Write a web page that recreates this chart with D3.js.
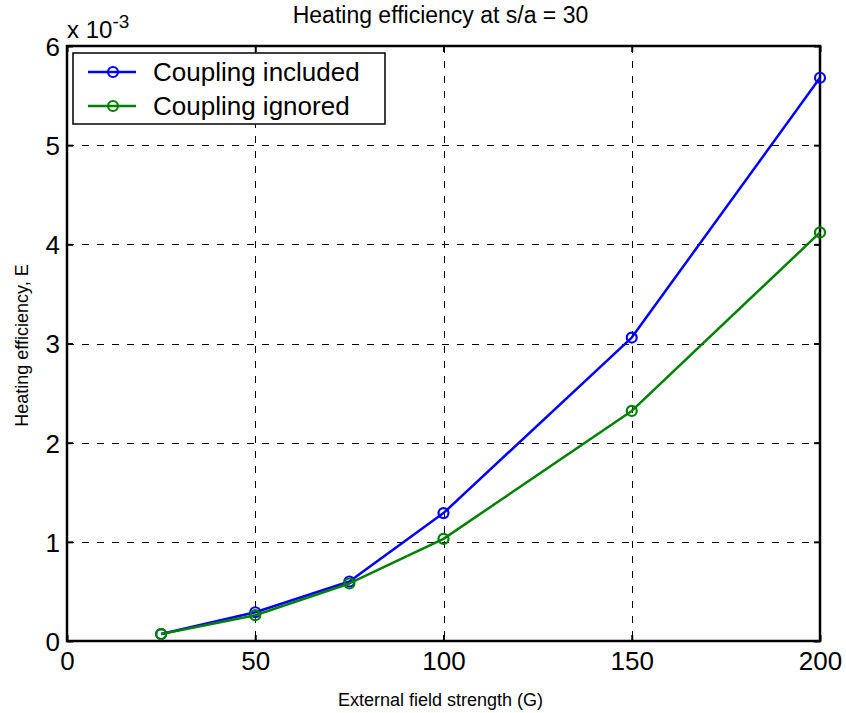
<!DOCTYPE html>
<html>
<head>
<meta charset="utf-8">
<script src="https://cdn.jsdelivr.net/npm/d3@7"></script>
<style>
  body { margin: 0; background: #fff; }
  svg { display: block; font-family: "Liberation Sans", Arial, sans-serif; }
</style>
</head>
<body>
<svg width="846" height="713"></svg>
<script>
// data (y in units of 1e-3)
var fieldStrength = [25, 50, 75, 100, 150, 200];
var coupledEff = [0.07, 0.29, 0.60, 1.29, 3.06, 5.68];
var ignoredEff = [0.07, 0.26, 0.58, 1.03, 2.32, 4.12];
var xTicks = [0, 50, 100, 150, 200];
var yTicks = [0, 1, 2, 3, 4, 5, 6];
var seriesNames = ["Coupling included", "Coupling ignored"];
var seriesColors = ["#0000ff", "#008000"];

var svg = d3.select("svg"),
    margin = {top: 46, right: 26, bottom: 72, left: 67},
    width = +svg.attr("width") - margin.left - margin.right,
    height = +svg.attr("height") - margin.top - margin.bottom;

var x = d3.scaleLinear().domain([0, 200]).range([0, width]),
    y = d3.scaleLinear().domain([0, 6]).range([height, 0]);

var plot = svg.append("g")
    .attr("transform", "translate(" + margin.left + "," + margin.top + ")");

// dashed grid
plot.append("g").selectAll("line")
    .data(xTicks.slice(1, -1))
    .enter().append("line")
    .attr("x1", d => Math.round(x(d)) + 0.5).attr("x2", d => Math.round(x(d)) + 0.5)
    .attr("y1", 0).attr("y2", height)
    .attr("stroke", "#000").attr("stroke-dasharray", "7,8");
plot.append("g").selectAll("line")
    .data(yTicks.slice(1, -1))
    .enter().append("line")
    .attr("y1", d => Math.round(y(d)) + 0.5).attr("y2", d => Math.round(y(d)) + 0.5)
    .attr("x1", 0).attr("x2", width)
    .attr("stroke", "#000").attr("stroke-dasharray", "7,8");

// axes: ticks inside, on both sides
var xAxis = d3.axisBottom(x).tickValues(xTicks).tickSizeInner(-6).tickSizeOuter(0).tickPadding(11),
    xAxisTop = d3.axisTop(x).tickValues(xTicks).tickSizeInner(-6).tickSizeOuter(0).tickFormat(""),
    yAxis = d3.axisLeft(y).tickValues(yTicks).tickFormat(d3.format("d")).tickSizeInner(-6).tickSizeOuter(0).tickPadding(7),
    yAxisRight = d3.axisRight(y).tickValues(yTicks).tickSizeInner(-6).tickSizeOuter(0).tickFormat("");

var gx = plot.append("g").attr("transform", "translate(0," + height + ")").call(xAxis);
var gxt = plot.append("g").call(xAxisTop);
var gy = plot.append("g").call(yAxis);
var gyr = plot.append("g").attr("transform", "translate(" + width + ",0)").call(yAxisRight);

[gx, gxt, gy, gyr].forEach(function(g) {
    g.select(".domain").remove();
    g.selectAll(".tick line").attr("stroke", "#000").attr("stroke-width", 2);
    g.selectAll("text").attr("font-size", 26).attr("fill", "#000")
        .attr("font-family", "Liberation Sans, Arial, sans-serif");
});
gx.selectAll("text").attr("dy", "0.71em");
gy.selectAll("text").attr("dy", "0.36em");

// box
plot.append("rect")
    .attr("width", width).attr("height", height)
    .attr("fill", "none").attr("stroke", "#000").attr("stroke-width", 2.5);

// series
var line = d3.line()
    .x(function(d) { return x(d.x); })
    .y(function(d) { return y(d.y); });

var series = [coupledEff, ignoredEff].map(function(vals, i) {
    return { name: seriesNames[i], color: seriesColors[i],
             values: fieldStrength.map(function(f, j) { return {x: f, y: vals[j]}; }) };
});

series.forEach(function(s) {
    plot.append("path")
        .datum(s.values)
        .attr("fill", "none")
        .attr("stroke", s.color)
        .attr("stroke-width", 2.5)
        .attr("stroke-linejoin", "round")
        .attr("d", line);
    plot.append("g").selectAll("circle")
        .data(s.values)
        .enter().append("circle")
        .attr("cx", d => x(d.x)).attr("cy", d => y(d.y))
        .attr("r", 5)
        .attr("fill", "none")
        .attr("stroke", s.color)
        .attr("stroke-width", 2.2);
});

// legend
var legend = plot.append("g").attr("transform", "translate(6,7)");
legend.append("rect")
    .attr("width", 312).attr("height", 71)
    .attr("fill", "#fff").attr("stroke", "#000").attr("stroke-width", 1.5);
series.forEach(function(s, i) {
    var ly = 19 + i * 34;
    legend.append("line")
        .attr("x1", 15).attr("x2", 63).attr("y1", ly).attr("y2", ly)
        .attr("stroke", s.color).attr("stroke-width", 2.5);
    legend.append("circle")
        .attr("cx", 40).attr("cy", ly).attr("r", 5)
        .attr("fill", "none").attr("stroke", s.color).attr("stroke-width", 2.2);
    legend.append("text")
        .attr("x", 80).attr("y", ly).attr("dy", "0.36em")
        .attr("font-size", 26).text(s.name);
});

// multiplier
var mult = svg.append("text")
    .attr("x", margin.left).attr("y", 38)
    .attr("font-size", 24);
mult.append("tspan").text("x 10");
mult.append("tspan").attr("dy", -10).attr("font-size", 19).text("-3");

// title and labels
svg.append("text")
    .attr("x", margin.left + width / 2 - 3).attr("y", 23)
    .attr("text-anchor", "middle").attr("font-size", 23)
    .text("Heating efficiency at s/a = 30");

svg.append("text")
    .attr("x", margin.left + width / 2 - 3).attr("y", 706)
    .attr("text-anchor", "middle").attr("font-size", 18)
    .text("External field strength (G)");

svg.append("text")
    .attr("transform", "translate(28," + (margin.top + height / 2 + 2) + ") rotate(-90)")
    .attr("text-anchor", "middle").attr("font-size", 18)
    .text("Heating efficiency, E");
</script>
</body>
</html>
